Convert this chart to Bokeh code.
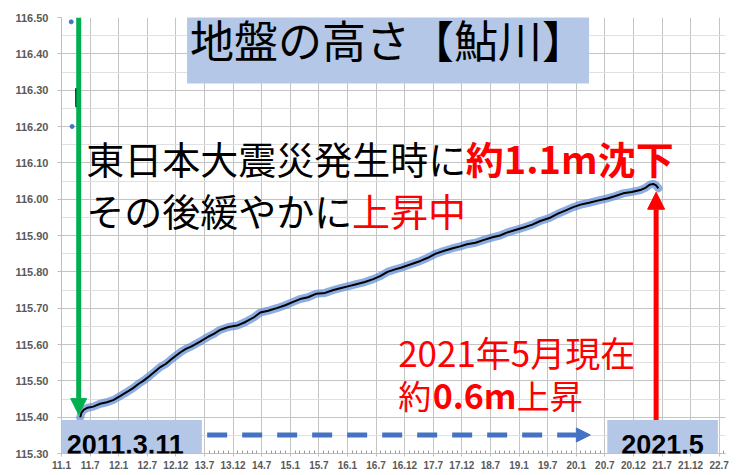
from bokeh.plotting import figure
from bokeh.models import (FixedTicker, SingleIntervalTicker, NumeralTickFormatter,
                          Label, Arrow, NormalHead)
from bokeh.embed import file_html
from bokeh.resources import INLINE

# ---------------- data ----------------
years = [2011.188, 2011.208, 2011.247, 2011.317, 2011.416, 2011.535, 2011.654, 2011.764,
         2011.883, 2012.012, 2012.111, 2012.210, 2012.290, 2012.389, 2012.489, 2012.588,
         2012.687, 2012.786, 2012.935, 2013.035, 2013.134, 2013.283, 2013.432, 2013.531,
         2013.630, 2013.779, 2013.928, 2014.077, 2014.226, 2014.336, 2014.475, 2014.623,
         2014.772, 2014.921, 2015.031, 2015.170, 2015.319, 2015.468, 2015.616, 2015.736,
         2015.865, 2016.014, 2016.163, 2016.312, 2016.431, 2016.560, 2016.679, 2016.808,
         2016.957, 2017.136, 2017.255, 2017.404, 2017.553, 2017.702, 2017.831, 2017.950,
         2018.099, 2018.248, 2018.397, 2018.526, 2018.645, 2018.794, 2018.943, 2019.092,
         2019.231, 2019.390, 2019.539, 2019.688, 2019.807, 2019.936, 2020.085, 2020.234,
         2020.403, 2020.532, 2020.681, 2020.830, 2020.979, 2021.078, 2021.147, 2021.207,
         2021.257, 2021.296]
heights = [115.400, 115.412, 115.420, 115.426, 115.429, 115.437, 115.441, 115.447,
           115.458, 115.470, 115.480, 115.492, 115.500, 115.512, 115.525, 115.538,
           115.547, 115.560, 115.578, 115.588, 115.595, 115.608, 115.622, 115.630,
           115.640, 115.648, 115.652, 115.662, 115.675, 115.688, 115.693, 115.700,
           115.708, 115.718, 115.725, 115.730, 115.740, 115.742, 115.750, 115.755,
           115.760, 115.766, 115.772, 115.780, 115.788, 115.800, 115.806, 115.812,
           115.820, 115.830, 115.838, 115.850, 115.858, 115.865, 115.870, 115.876,
           115.880, 115.888, 115.895, 115.900, 115.908, 115.915, 115.922, 115.930,
           115.940, 115.948, 115.960, 115.970, 115.978, 115.985, 115.990, 115.996,
           116.002, 116.008, 116.016, 116.020, 116.025, 116.032, 116.040, 116.042,
           116.038, 116.030]

pre_line_years = [2011.117, 2011.119]
pre_line_heights = [116.305, 116.253]
pre_dot_years = [2011.030, 2011.045]
pre_dot_heights = [116.488, 116.200]

tick_labels = ["11.1", "11.7", "12.1", "12.7", "12.12", "13.7", "13.12", "14.7",
               "15.1", "15.7", "16.1", "16.7", "16.12", "17.7", "17.12", "18.7",
               "19.1", "19.7", "20.1", "20.7", "20.12", "21.7", "21.12", "22.7"]
axis_start = 2010.86
tick_step = 0.5

quake_year = 2011.161
now_year = 2021.257

# ---------------- figure ----------------
p = figure(width=736, height=475, x_range=(axis_start, 2022.47), y_range=(115.30, 116.50),
           output_backend="svg", toolbar_location=None,
           min_border_left=61, min_border_right=11, min_border_top=17, min_border_bottom=22)
p.outline_line_color = None
p.background_fill_color = "white"
p.border_fill_color = "white"

yticker = SingleIntervalTicker(interval=0.1, num_minor_ticks=2)
p.yaxis.ticker = yticker
p.ygrid.ticker = yticker
p.yaxis.formatter = NumeralTickFormatter(format="0.00")
p.ygrid.grid_line_color = "#c4c4c4"
p.ygrid.minor_grid_line_color = "#e0e0e0"
p.yaxis.minor_tick_line_color = None
p.yaxis.major_tick_out = 4
p.yaxis.major_tick_in = 0
p.yaxis.major_label_standoff = 9
p.yaxis.axis_line_color = "#bfbfbf"
p.yaxis.major_tick_line_color = "#bfbfbf"
p.yaxis.major_label_text_font = "Liberation Sans"
p.yaxis.major_label_text_font_size = "11px"
p.yaxis.major_label_text_font_style = "bold"
p.yaxis.major_label_text_color = "#595959"

ticks = [round(axis_start + k * tick_step, 2) for k in range(len(tick_labels))]
minor = [round(axis_start + m / 12, 4) for m in range(1, 12 * 12) if m % 6 != 0]
xticker = FixedTicker(ticks=ticks, minor_ticks=minor)
p.xaxis.ticker = xticker
p.xgrid.ticker = xticker
p.xaxis.major_label_overrides = {t: lab for t, lab in zip(ticks, tick_labels)}
p.xgrid.grid_line_color = "#c4c4c4"
p.xaxis.axis_line_color = "#bfbfbf"
p.xaxis.major_tick_line_color = "#bfbfbf"
p.xaxis.minor_tick_line_color = "#9a9a9a"
p.xaxis.major_tick_out = 3
p.xaxis.major_tick_in = 0
p.xaxis.minor_tick_out = 0
p.xaxis.minor_tick_in = 3
p.xaxis.major_label_standoff = 4
p.xaxis.major_label_text_line_height = 1.0
p.xaxis.major_label_text_font = "Liberation Sans"
p.xaxis.major_label_text_font_size = "10px"
p.xaxis.major_label_text_font_style = "bold"
p.xaxis.major_label_text_color = "#595959"

# ---------------- series ----------------
p.line(years, heights, line_width=8, color="#5a8ad6", alpha=0.7,
       line_join="round", line_cap="round")
p.line(years, heights, line_width=2, color="black")
p.line(pre_line_years, pre_line_heights, line_width=2, color="black")
p.scatter(pre_dot_years, pre_dot_heights, size=4, color="#4472C4")

# ---------------- arrows ----------------
green = "#00B050"
red = "#FF0000"
blue = "#4472C4"
p.add_layout(Arrow(end=NormalHead(size=16, fill_color=green, line_color=green),
                   x_start=quake_year, y_start=116.50, x_end=quake_year, y_end=115.407,
                   line_color=green, line_width=5))
p.add_layout(Arrow(end=NormalHead(size=17, fill_color=red, line_color=red),
                   x_start=now_year, y_start=115.39, x_end=now_year, y_end=116.019,
                   line_color=red, line_width=5))
p.add_layout(Arrow(end=NormalHead(size=14, fill_color=blue, line_color=blue),
                   x_start=2013.407, y_start=115.351, x_end=2020.107, y_end=115.351,
                   line_color=blue, line_width=5, line_dash="20 15"))

# ---------------- texts ----------------
JP = "Noto Sans CJK JP"
box = "#B4C7E7"


def label(text, x, y, size, color="black", bold=False, align="left", font=JP, **kw):
    p.add_layout(Label(x=x, y=y, text=text, text_font=font, text_font_size=size,
                       text_color=color, text_font_style="bold" if bold else "normal",
                       text_align=align, text_baseline="middle", **kw))


label("地盤の高さ【鮎川】", 2016.57, 116.442, "44px", align="center",
      background_fill_color=box, padding=(3, 13))
label("東日本大震災発生時に", 2011.293, 116.115, "38px")
label("約1.1m沈下", 2017.93, 116.115, "38px", color=red, bold=True)
label("その後緩やかに", 2011.293, 115.972, "38px")
label("上昇中", 2015.94, 115.972, "38px", color=red)
label("2021年5月現在", 2016.746, 115.581, "35px", color=red)
label("約", 2016.746, 115.462, "33px", color=red)
label("0.6m", 2017.35, 115.462, "34px", color=red, bold=True)
label("上昇", 2018.82, 115.462, "33px", color=red)
label("2011.3.11", 2011.975, 115.325, "27px", bold=True, align="center",
      font="Liberation Sans", background_fill_color=box, padding=(18, 15))
label("2021.5", 2021.37, 115.325, "27px", bold=True, align="center",
      font="Liberation Sans", background_fill_color=box, padding=(14, 15))

open("out.html", "w").write(file_html(p, INLINE))
